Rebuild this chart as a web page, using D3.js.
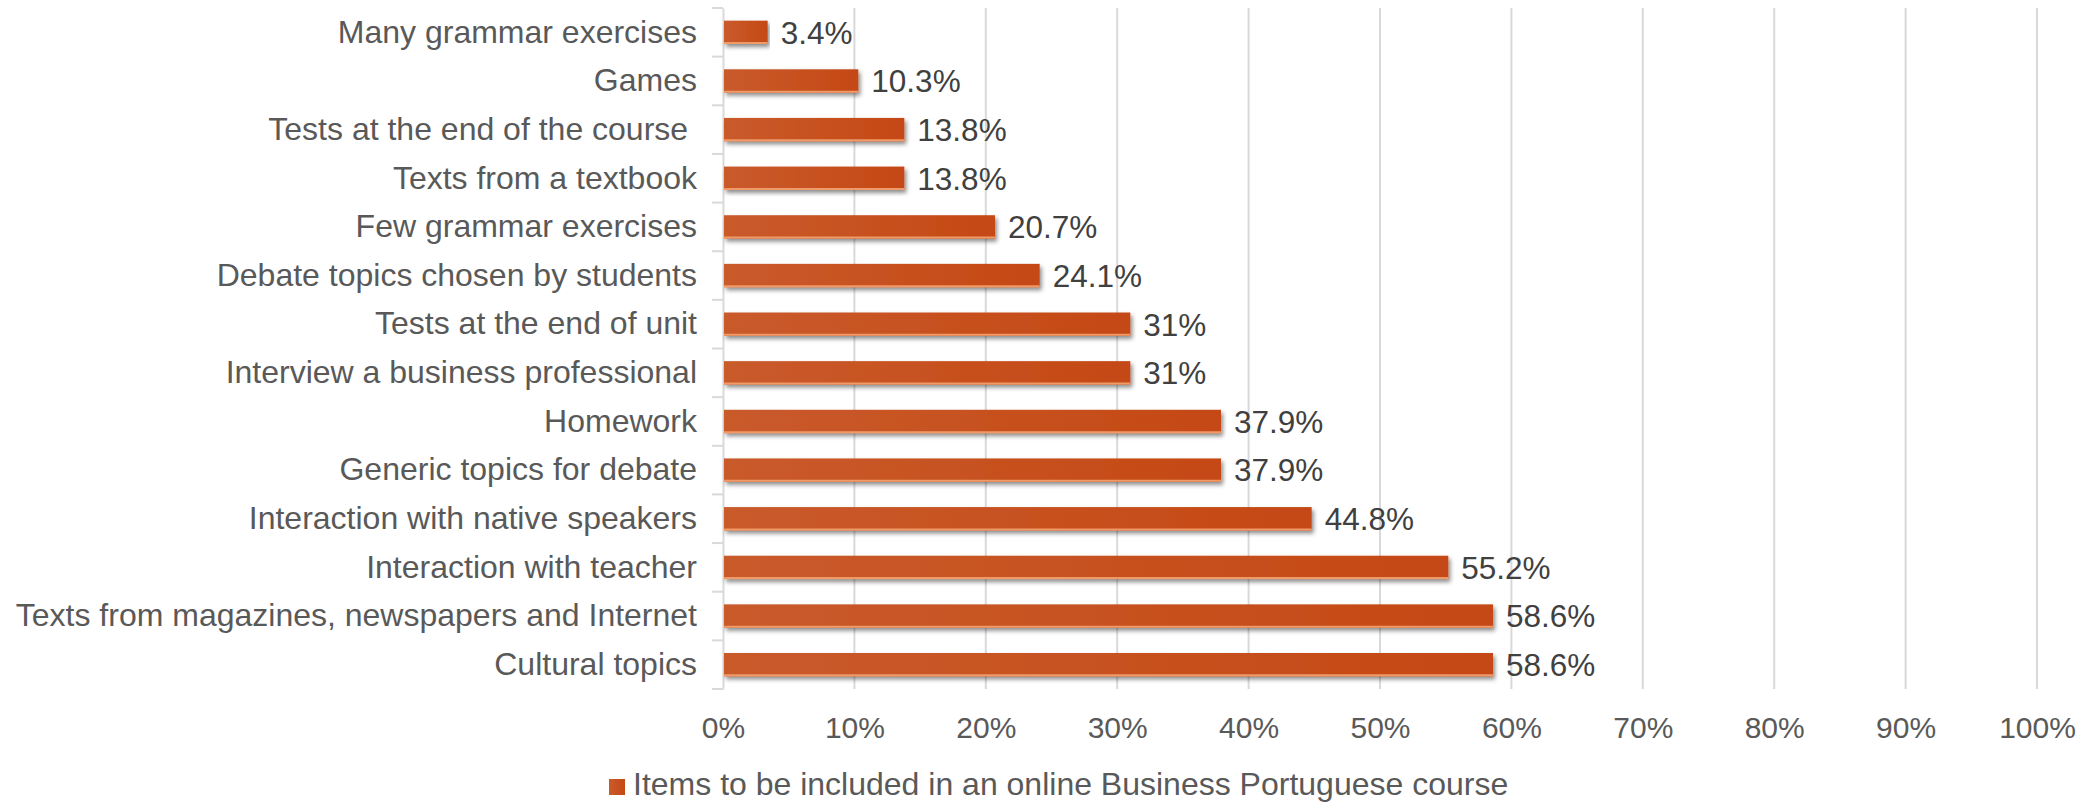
<!DOCTYPE html>
<html>
<head>
<meta charset="utf-8">
<script src="https://cdn.jsdelivr.net/npm/d3@7"></script>
<style>
  body { margin: 0; background: #fff; }
  text { font-family: "Liberation Sans", Arial, sans-serif; }
</style>
</head>
<body>
<script>
var w = 2097;
var h = 803;

// data, top to bottom as in the picture
var categories = [
  "Many grammar exercises",
  "Games",
  "Tests at the end of the course ",
  "Texts from a textbook",
  "Few grammar exercises",
  "Debate topics chosen by students",
  "Tests at the end of unit",
  "Interview a business professional",
  "Homework",
  "Generic topics for debate",
  "Interaction with native speakers",
  "Interaction with teacher",
  "Texts from magazines, newspapers and Internet",
  "Cultural topics"
];
var values = [3.4, 10.3, 13.8, 13.8, 20.7, 24.1, 31, 31, 37.9, 37.9, 44.8, 55.2, 58.6, 58.6];
var xTicks = [0, 10, 20, 30, 40, 50, 60, 70, 80, 90, 100];
var seriesName = "Items to be included in an online Business Portuguese course";

var plotLeft = 723, plotRight = 2037, plotTop = 8, plotBottom = 689;

var xScale = d3.scaleLinear().domain([0, 100]).range([plotLeft, plotRight]);
var yScale = d3.scaleBand().domain(categories).range([plotTop, plotBottom]).paddingInner(0.52).paddingOuter(0.26);

var svg = d3.select("body").append("svg")
  .attr("width", w)
  .attr("height", h);

var defs = svg.append("defs");
var grad = defs.append("linearGradient").attr("id", "barGrad")
  .attr("x1", "0%").attr("x2", "100%").attr("y1", "0%").attr("y2", "0%");
grad.append("stop").attr("offset", "0%").attr("stop-color", "#c95a2c");
grad.append("stop").attr("offset", "100%").attr("stop-color", "#c54914");

var shadow = defs.append("filter").attr("id", "shadow")
  .attr("x", "-5%").attr("y", "-50%").attr("width", "110%").attr("height", "220%");
shadow.append("feDropShadow")
  .attr("dx", 2).attr("dy", 3).attr("stdDeviation", 2)
  .attr("flood-color", "#000").attr("flood-opacity", 0.45);

// gridlines
svg.append("g")
  .selectAll("line")
  .data(xTicks.slice(1))
  .enter()
  .append("line")
  .attr("x1", function(d) { return xScale(d); })
  .attr("x2", function(d) { return xScale(d); })
  .attr("y1", plotTop)
  .attr("y2", plotBottom)
  .attr("stroke", "#d9d9d9")
  .attr("stroke-width", 2);

// category axis
var yAxis = d3.axisLeft(yScale).tickSize(0).tickPadding(26);
var gy = svg.append("g")
  .attr("transform", "translate(" + plotLeft + ",0)")
  .call(yAxis);
gy.select(".domain").attr("stroke", "#d9d9d9").attr("stroke-width", 2);
gy.selectAll("text")
  .attr("font-size", 32)
  .attr("fill", "#595959")
  .style("white-space", "pre")
  .style("font-family", "'Liberation Sans', Arial, sans-serif");

// tick marks at band boundaries
var bounds = d3.range(categories.length + 1).map(function(i) {
  return plotTop + i * (plotBottom - plotTop) / categories.length;
});
svg.append("g")
  .selectAll("line")
  .data(bounds)
  .enter()
  .append("line")
  .attr("x1", plotLeft - 11)
  .attr("x2", plotLeft)
  .attr("y1", function(d) { return d; })
  .attr("y2", function(d) { return d; })
  .attr("stroke", "#d9d9d9")
  .attr("stroke-width", 2);

// bars
var bars = svg.append("g");
bars.selectAll("rect")
  .data(values)
  .enter()
  .append("rect")
  .attr("x", xScale(0) + 1)
  .attr("y", function(d, i) { return yScale(categories[i]); })
  .attr("width", function(d) { return xScale(d) - xScale(0) - 1; })
  .attr("height", yScale.bandwidth())
  .attr("fill", "url(#barGrad)")
  .attr("filter", "url(#shadow)");

bars.selectAll("line")
  .data(values)
  .enter()
  .append("line")
  .attr("x1", xScale(0) + 1)
  .attr("x2", function(d) { return xScale(d); })
  .attr("y1", function(d, i) { return yScale(categories[i]) + yScale.bandwidth() - 1; })
  .attr("y2", function(d, i) { return yScale(categories[i]) + yScale.bandwidth() - 1; })
  .attr("stroke", "#f09a68")
  .attr("stroke-width", 2);

// value labels
svg.append("g")
  .selectAll("text")
  .data(values)
  .enter()
  .append("text")
  .attr("x", function(d) { return xScale(d) + 13; })
  .attr("y", function(d, i) { return yScale(categories[i]) + yScale.bandwidth() / 2; })
  .attr("dy", "0.36em")
  .attr("font-size", 31.5)
  .attr("fill", "#404040")
  .text(function(d) { return d + "%"; });

// x axis labels
var xAxis = d3.axisBottom(xScale).tickValues(xTicks).tickSize(0).tickPadding(28)
  .tickFormat(function(d) { return d + "%"; });
var gx = svg.append("g")
  .attr("transform", "translate(0," + plotBottom + ")")
  .call(xAxis);
gx.select(".domain").remove();
gx.selectAll("text")
  .attr("font-size", 30)
  .attr("fill", "#595959")
  .style("font-family", "'Liberation Sans', Arial, sans-serif");

// legend
var legend = svg.append("g").attr("transform", "translate(609,779)");
legend.append("rect")
  .attr("width", 16)
  .attr("height", 16)
  .attr("fill", "url(#barGrad)");
legend.append("text")
  .attr("x", 24)
  .attr("y", 16)
  .attr("font-size", 32)
  .attr("fill", "#595959")
  .text(seriesName);
</script>
</body>
</html>
